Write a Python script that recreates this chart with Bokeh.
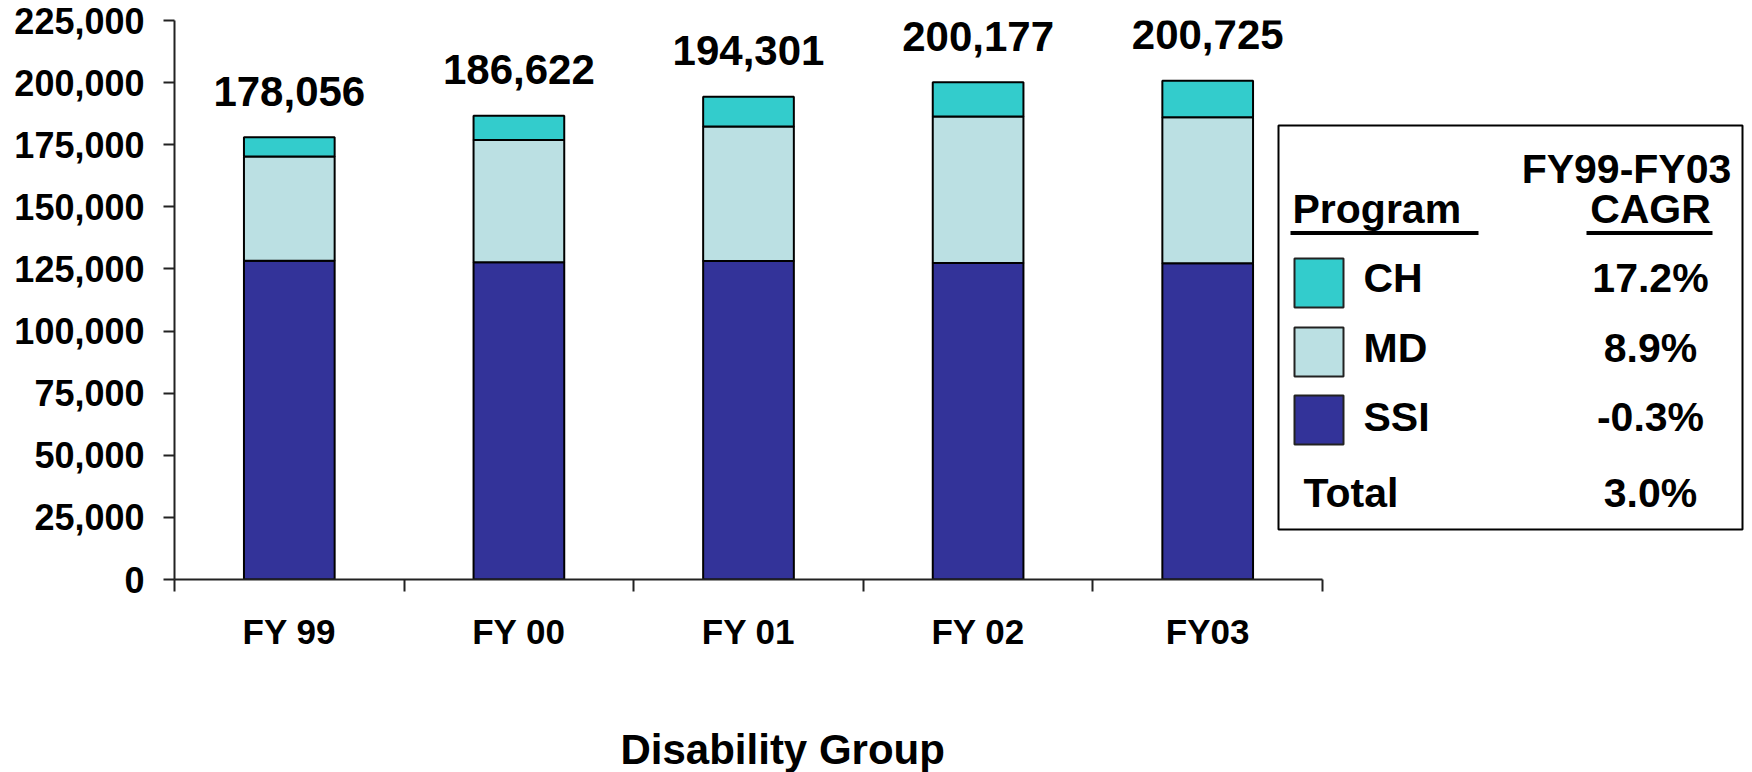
from bokeh.plotting import figure
from bokeh.models import ColumnDataSource, Range1d, FixedTicker, NumeralTickFormatter, Title
from bokeh.core.properties import value
from bokeh.embed import file_html
from bokeh.resources import INLINE

# ---- data -------------------------------------------------------------
years = ["FY 99", "FY 00", "FY 01", "FY 02", "FY03"]
ssi = [128300, 127700, 128200, 127400, 127300]
md = [41956, 49240, 54100, 58920, 58725]
ch = [7800, 9682, 12001, 13857, 14700]

programs = ["CH", "MD", "SSI"]
program_colors = ["#33CCCC", "#BBE0E3", "#333399"]
cagr = ["17.2%", "8.9%", "-0.3%"]
cagr_total = "3.0%"

y_ticks = list(range(0, 225001, 25000))

# ---- layout constants (pixels) ---------------------------------------
FONT = "Liberation Sans"
AXIS_COLOR = "#222222"
LEFT, TOP, BOTTOM = 174, 20, 193
FRAME_W, FRAME_H = 1578, 559
CAT_PX = 229.6      # width of one category slot
LIFT = 15           # raise text glyphs so their baseline sits where wanted

n = len(years)
totals = [a + b + c for a, b, c in zip(ssi, md, ch)]
source = ColumnDataSource(dict(
    x=[i + 0.5 for i in range(n)],
    ssi=ssi, md=md, ch=ch,
    total=totals,
    label=[f"{t:,}" for t in totals],
))

p = figure(
    frame_width=FRAME_W, frame_height=FRAME_H,
    min_border_left=LEFT, min_border_right=0,
    min_border_top=TOP, min_border_bottom=BOTTOM,
    x_range=Range1d(0, FRAME_W / CAT_PX), y_range=Range1d(0, 225000),
    output_backend="svg", toolbar_location=None,
)
p.outline_line_color = None
p.grid.visible = False
p.background_fill_color = "white"
p.border_fill_color = "white"

# stacked bars: SSI at the bottom, then MD, then CH
p.vbar_stack(
    ["ssi", "md", "ch"], x="x", width=0.395, source=source,
    color=[program_colors[2], program_colors[1], program_colors[0]],
    line_color="black", line_width=2,
)

# total above every bar
p.text(
    x="x", y="total", text="label", source=source,
    text_align="center", text_baseline="alphabetic", y_offset=-31 - LIFT,
    text_font=value(FONT), text_font_style="bold", text_font_size="42px",
    text_color="black",
)

# ---- axes ------------------------------------------------------------
xa = p.xaxis[0]
xa.ticker = FixedTicker(ticks=[i + 0.5 for i in range(n)], minor_ticks=list(range(n + 1)))
xa.bounds = (0, n)
xa.major_label_overrides = {i + 0.5: years[i] for i in range(n)}
xa.major_tick_in = 0
xa.major_tick_out = 0
xa.minor_tick_in = 0
xa.minor_tick_out = 12
xa.minor_tick_line_color = AXIS_COLOR
xa.minor_tick_line_width = 2
xa.axis_line_color = AXIS_COLOR
xa.axis_line_width = 2
xa.major_label_text_font = FONT
xa.major_label_text_font_style = "bold"
xa.major_label_text_font_size = "35px"
xa.major_label_text_color = "black"
xa.major_label_standoff = 20

ya = p.yaxis[0]
ya.ticker = FixedTicker(ticks=y_ticks)
ya.formatter = NumeralTickFormatter(format="0,0")
ya.bounds = (y_ticks[0], y_ticks[-1])
ya.major_tick_in = 0
ya.major_tick_out = 11
ya.major_tick_line_color = AXIS_COLOR
ya.major_tick_line_width = 2
ya.minor_tick_line_color = None
ya.axis_line_color = AXIS_COLOR
ya.axis_line_width = 2
ya.major_label_text_font = FONT
ya.major_label_text_font_style = "bold"
ya.major_label_text_font_size = "36px"
ya.major_label_text_color = "black"
ya.major_label_standoff = 19

# x-axis title, centred under the five category slots
x_title = Title(
    text="Disability Group", align="left", offset=446, standoff=140,
    text_font=FONT, text_font_style="bold", text_font_size="42px", text_color="black",
)
p.add_layout(x_title, "below")

# ---- legend table (drawn in canvas pixel coordinates) -----------------
p.extra_x_ranges = {"px": Range1d(LEFT, LEFT + FRAME_W)}
p.extra_y_ranges = {"py": Range1d(TOP + FRAME_H, TOP)}
px = dict(x_range_name="px", y_range_name="py")
txt = dict(text_font=value(FONT), text_font_style="bold", text_font_size="41px",
           text_color="black", text_baseline="alphabetic", **px)

p.quad(left=1278, right=1742, top=125, bottom=529,
       fill_color="white", line_color="black", line_width=2, **px)

p.text(x=[1292], y=[223 - LIFT], text=["Program"], text_align="left", **txt)
p.text(x=[1626], y=[183 - LIFT], text=["FY99-FY03"], text_align="center", **txt)
p.text(x=[1650], y=[223 - LIFT], text=["CAGR"], text_align="center", **txt)
p.segment(x0=[1290, 1586], y0=[232.5, 232.5], x1=[1478, 1712], y1=[232.5, 232.5],
          line_color="black", line_width=4, **px)

row_tops = [258, 327, 395]
swatch_h = 49
p.quad(left=[1294] * 3, right=[1343] * 3,
       top=row_tops, bottom=[t + swatch_h for t in row_tops],
       fill_color=program_colors, line_color="#222222", line_width=2, **px)
row_base = [292 - LIFT, 362 - LIFT, 431 - LIFT]
p.text(x=[1363] * 3, y=row_base, text=programs, text_align="left", **txt)
p.text(x=[1650] * 3, y=row_base, text=cagr, text_align="center", **txt)
p.text(x=[1303], y=[507 - LIFT], text=["Total"], text_align="left", **txt)
p.text(x=[1650], y=[507 - LIFT], text=[cagr_total], text_align="center", **txt)

open("out.html", "w").write(file_html(p, INLINE))
